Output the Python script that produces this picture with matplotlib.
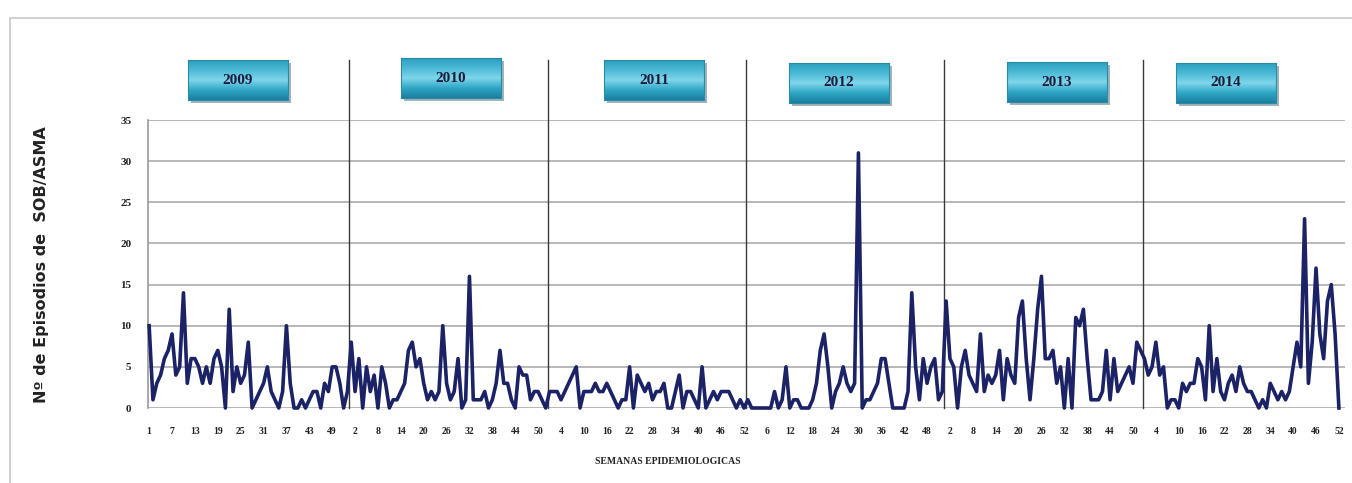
import matplotlib
matplotlib.use("Agg")
import matplotlib.pyplot as plt
import numpy as np
from matplotlib.colors import LinearSegmentedColormap
from matplotlib.patches import Rectangle

# ---- data -------------------------------------------------------------
years = ["2009", "2010", "2011", "2012", "2013", "2014"]

v2009 = [10, 1, 3, 4, 6, 7, 9, 4, 5, 14, 3, 6, 6, 5, 3, 5, 3, 6, 7, 5,
         0, 12, 2, 5, 3, 4, 8, 0, 1, 2, 3, 5, 2, 1, 0, 2, 10, 3, 0, 0,
         1, 0, 1, 2, 2, 0, 3, 2, 5, 5, 3, 0, 2]
v2010 = [8, 2, 6, 0, 5, 2, 4, 0, 5, 3, 0, 1, 1, 2, 3, 7, 8, 5, 6, 3,
         1, 2, 1, 2, 10, 3, 1, 2, 6, 0, 1, 16, 1, 1, 1, 2, 0, 1, 3, 7,
         3, 3, 1, 0, 5, 4, 4, 1, 2, 2, 1, 0]
v2011 = [2, 2, 2, 1, 2, 3, 4, 5, 0, 2, 2, 2, 3, 2, 2, 3, 2, 1, 0, 1,
         1, 5, 0, 4, 3, 2, 3, 1, 2, 2, 3, 0, 0, 2, 4, 0, 2, 2, 1, 0,
         5, 0, 1, 2, 1, 2, 2, 2, 1, 0, 1, 0]
v2012 = [1, 0, 0, 0, 0, 0, 0, 2, 0, 1, 5, 0, 1, 1, 0, 0, 0, 1, 3, 7,
         9, 5, 0, 2, 3, 5, 3, 2, 3, 31, 0, 1, 1, 2, 3, 6, 6, 3, 0, 0,
         0, 0, 2, 14, 5, 1, 6, 3, 5, 6, 1, 2]
v2013 = [13, 6, 5, 0, 5, 7, 4, 3, 2, 9, 2, 4, 3, 4, 7, 1, 6, 4, 3, 11,
         13, 6, 1, 6, 12, 16, 6, 6, 7, 3, 5, 0, 6, 0, 11, 10, 12, 6, 1, 1,
         1, 2, 7, 1, 6, 2, 3, 4, 5, 3, 8, 7]
v2014 = [6, 4, 5, 8, 4, 5, 0, 1, 1, 0, 3, 2, 3, 3, 6, 5, 1, 10, 2, 6,
         2, 1, 3, 4, 2, 5, 3, 2, 2, 1, 0, 1, 0, 3, 2, 1, 2, 1, 2, 5,
         8, 5, 23, 3, 8, 17, 9, 6, 13, 15, 9, 0]

series = [v2009, v2010, v2011, v2012, v2013, v2014]
y_ticks = [0, 5, 10, 15, 20, 25, 30, 35]

values = np.concatenate([np.asarray(s, float) for s in series])
weeks = np.concatenate([np.arange(1, len(s) + 1) for s in series])
x = np.arange(len(values))
lengths = [len(s) for s in series]
bounds = np.cumsum(lengths)[:-1] - 0.5

# ---- figure -------------------------------------------------------------
W, H = 1352, 483
fig = plt.figure(figsize=(W / 100, H / 100), dpi=100)
fig.patch.set_facecolor("white")

# outer light frame
fig.patches.append(Rectangle((10 / W, -0.1), 1.2, (H - 18) / H + 0.1,
                             transform=fig.transFigure, fill=False,
                             edgecolor="#c8c8c8", lw=1.2))

ax = fig.add_axes([148 / W, 75 / H, 1197 / W, 288 / H])
ax.plot(x, values, color="#1b2266", lw=2.6, solid_joinstyle="round",
        clip_on=False, zorder=3)
ax.set_ylim(0, 35)
ax.set_xlim(-0.3, 313.6)
ax.set_yticks(y_ticks)
ax.yaxis.grid(True, color="#b8b8b8", lw=1.4)
ax.set_axisbelow(True)
for s in ["top", "right", "bottom"]:
    ax.spines[s].set_visible(False)
ax.spines["left"].set_color("#9a9a9a")
ax.spines["left"].set_linewidth(1.2)

ax.set_xticks(x[::6])
ax.set_xticklabels([str(w) for w in weeks[::6]])
ax.tick_params(axis="x", length=0, pad=14, labelsize=7)
ax.tick_params(axis="y", length=0, pad=12, labelsize=8)
for lab in ax.get_xticklabels() + ax.get_yticklabels():
    lab.set_fontfamily("Liberation Serif")
    lab.set_fontweight("bold")
    lab.set_color("#222222")

# year dividers
ytop = (408 - 60) / 288
for b in bounds:
    ax.axvline(b, ymin=0, ymax=ytop, color="#3a3a3a", lw=1.0, clip_on=False,
               zorder=2)

# year boxes with gradient
cmap = LinearSegmentedColormap.from_list(
    "box", ["#1c7f9f", "#2fa7c6", "#7fd6ea", "#4cbad6", "#2b9fc0"])
grad = np.linspace(0, 1, 64).reshape(-1, 1)
box_centers = [(238, 80), (451, 78), (654, 80), (839, 83), (1057, 82), (1226, 83)]
bw, bh = 100, 40
for yr, (cx, cy) in zip(years, box_centers):
    sh = fig.add_axes([(cx - bw / 2 + 3) / W, (H - cy - bh / 2 - 3) / H, bw / W, bh / H])
    sh.set_facecolor("#9fb4bb")
    sh.set_xticks([]); sh.set_yticks([])
    for sp in sh.spines.values():
        sp.set_visible(False)
    bax = fig.add_axes([(cx - bw / 2) / W, (H - cy - bh / 2) / H, bw / W, bh / H])
    bax.imshow(grad, aspect="auto", cmap=cmap, extent=[0, 1, 0, 1], origin="lower")
    bax.set_xticks([]); bax.set_yticks([])
    for sp in bax.spines.values():
        sp.set_color("#2a8aa8")
        sp.set_linewidth(0.8)
    bax.text(0.5, 0.5, yr, ha="center", va="center", fontsize=11,
             fontweight="bold", family="Liberation Serif", color="#1c1c3c",
             transform=bax.transAxes)

# axis titles
fig.text(42 / W, 1 - 265 / H, "Nº de Episodios de  SOB/ASMA", rotation=90,
         ha="center", va="center", fontsize=11.5, fontweight="bold",
         family="DejaVu Sans", color="#222222")
fig.text(668 / W, 1 - 462 / H, "SEMANAS EPIDEMIOLOGICAS", ha="center",
         va="center", fontsize=7, fontweight="bold", family="Liberation Serif",
         color="#222222")

fig.savefig("out.png", dpi=100, facecolor="white")
